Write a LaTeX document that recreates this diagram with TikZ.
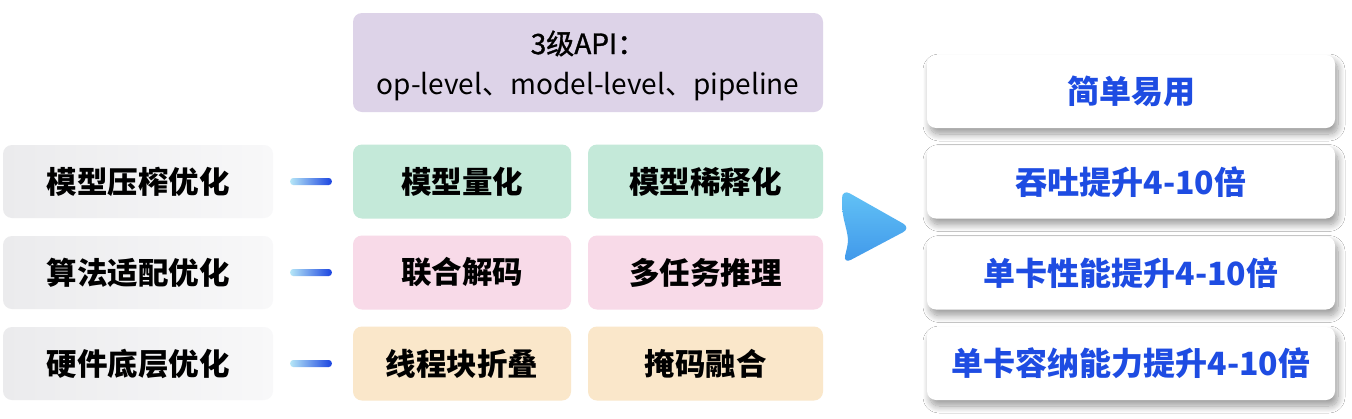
\documentclass[tikz,border=0pt]{standalone}
\usepackage{fontspec}
\setmainfont{Noto Sans CJK SC}
\newfontfamily\apimed{Noto Sans CJK SC}[FakeBold=1.2]
\usetikzlibrary{shadows.blur,calc}
\definecolor{leftA}{HTML}{EBEBED}
\definecolor{leftB}{HTML}{F8F8F9}
\definecolor{greenF}{HTML}{C4E9D9}
\definecolor{pinkF}{HTML}{F8DAE8}
\definecolor{beigeF}{HTML}{FAE7CA}
\definecolor{purpleF}{HTML}{DDD3E8}
\definecolor{blueT}{HTML}{1E4CE2}
\definecolor{dashA}{HTML}{B5E6F7}
\definecolor{dashB}{HTML}{1B44E0}
\definecolor{triA}{HTML}{63C3F6}
\definecolor{triB}{HTML}{3F97EA}
\begin{document}
\begin{tikzpicture}[x=1pt,y=-1pt,
  basebox/.style={rounded corners=9pt, inner sep=0pt, font=\fontsize{30.5}{32}\selectfont\bfseries},
  leftbox/.style={basebox, left color=leftA, right color=leftB, minimum width=270pt, minimum height=73pt},
  midbox/.style={basebox, fill=#1, minimum height=74pt},
  rightbox/.style={basebox, fill=white, text=blueT, minimum width=408pt, minimum height=73pt,
    font=\fontsize{32}{34}\selectfont\bfseries,
    blur shadow={shadow xshift=3pt, shadow yshift=-6pt, shadow blur radius=7pt, shadow opacity=40, shadow blur steps=12}},
  dashline/.style={left color=dashA, right color=dashB}
]
\useasboundingbox (0,0) rectangle (1352,418);
\fill[white] (0,0) rectangle (1352,418);

% top API box
\node[basebox, fill=purpleF, minimum width=470pt, minimum height=99pt] (api) at (588,62.5) {};
\node[inner sep=0pt, align=center, font=\fontsize{28}{40}\selectfont] (apitext) at ($(api.center)+(0,3)$)
  {{\apimed 3级API：}\\op-level、model-level、pipeline};

% left boxes
\node[leftbox] (l1) at (138,181.5) {模型压榨优化};
\node[leftbox] (l2) at (138,272.5) {算法适配优化};
\node[leftbox] (l3) at (138,363.5) {硬件底层优化};

% middle boxes
\node[midbox=greenF, minimum width=218pt] (m11) at (462,181.5) {模型量化};
\node[midbox=greenF, minimum width=235pt] (m12) at (705.5,181.5) {模型稀释化};
\node[midbox=pinkF, minimum width=218pt] (m21) at (462,272.5) {联合解码};
\node[midbox=pinkF, minimum width=235pt] (m22) at (705.5,272.5) {多任务推理};
\node[midbox=beigeF, minimum width=218pt] (m31) at (462,363.5) {线程块折叠};
\node[midbox=beigeF, minimum width=235pt] (m32) at (705.5,363.5) {掩码融合};

% dashes between left and middle
\foreach \i in {1,2,3}{
  \coordinate (d\i a) at ($(l\i.east)+(17,0)$);
  \coordinate (d\i b) at ($(m\i1.west)+(-21,0)$);
  \shade[dashline, rounded corners=3pt] ($(d\i a)+(0,-3.5)$) rectangle ($(d\i b)+(0,3.5)$);
}

% right boxes
\node[rightbox] (r1) at (1131,91.5) {简单易用};
\node[rightbox] (r2) at (1131,182) {吞吐提升4-10倍};
\node[rightbox] (r3) at (1131,273) {单卡性能提升4-10倍};
\node[rightbox] (r4) at (1131,363.5) {单卡容纳能力提升4-10倍};

% big arrow triangle
\coordinate (t1) at (842,189);
\coordinate (t2) at (911,228);
\coordinate (t3) at (843,264);
\shade[top color=triA, bottom color=triB, rounded corners=9pt]
  (t1) -- (t2) -- (t3) .. controls (849,240) .. (842,212) -- cycle;
\end{tikzpicture}
\end{document}
